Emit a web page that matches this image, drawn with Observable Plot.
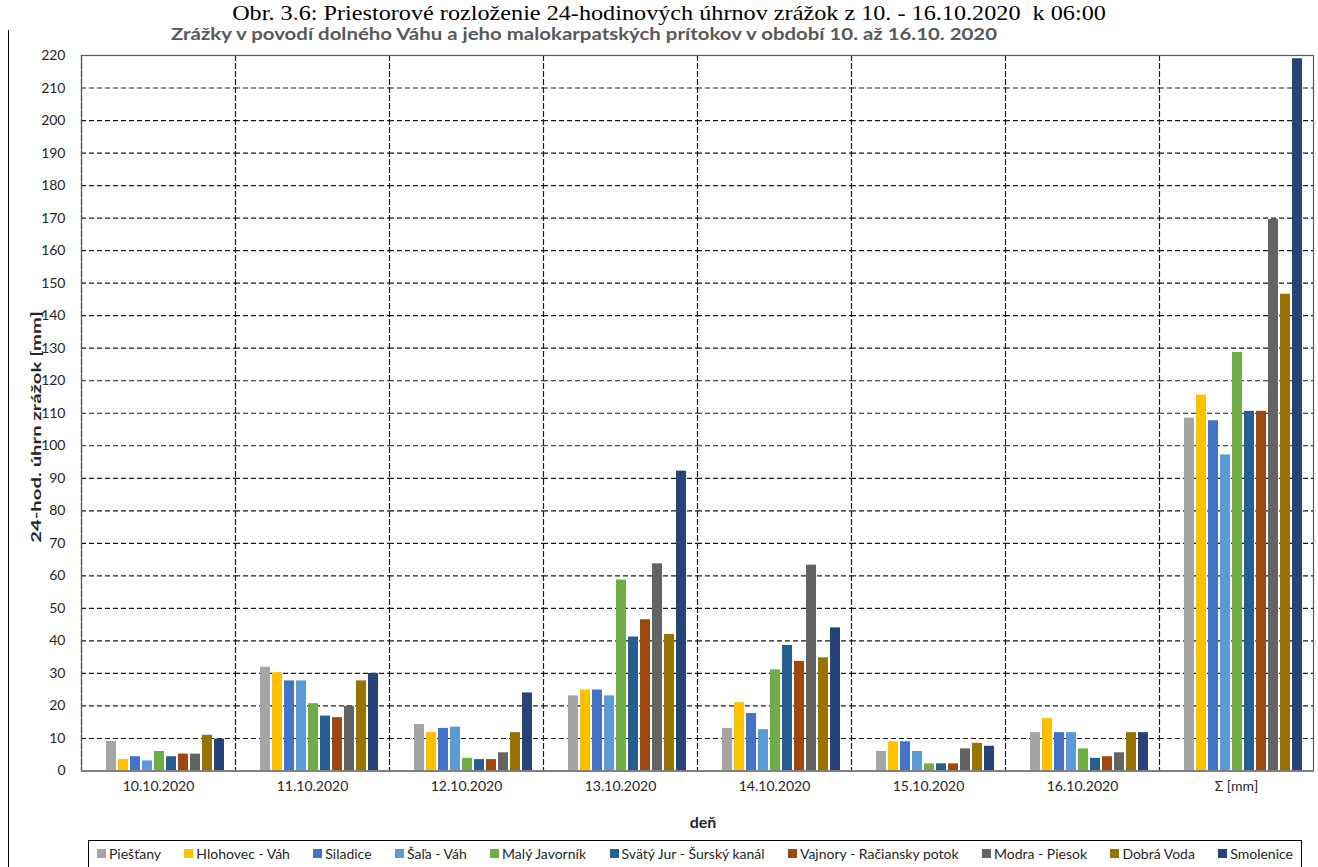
<!DOCTYPE html>
<html>
<head>
<meta charset="utf-8">
<script src="https://cdn.jsdelivr.net/npm/d3@7"></script>
<script src="https://cdn.jsdelivr.net/npm/@observablehq/plot@0.6"></script>
<style>
  body { margin: 0; background: #fff; }
  #wrap { position: relative; width: 1318px; height: 867px; overflow: hidden; font-family: Lato, "Liberation Sans", sans-serif; }
  #caption { position: absolute; left: 669px; top: 2px; transform: translateX(-50%) scaleX(1.1); font-family: "Liberation Serif", serif; font-size: 22px; line-height: 22px; color: #000; white-space: pre; }
  #frameline { position: absolute; left: 8px; top: 30px; width: 1px; height: 840px; background: #000; }
  #title { position: absolute; left: 584px; top: 33px; transform: translate(-50%, -50%) scaleX(1.2); font-weight: bold; font-size: 17px; color: #595959; white-space: nowrap; }
  #chart { position: absolute; left: 0; top: 0; }
  #ytitle { position: absolute; left: 35px; top: 427px; transform: translate(-50%, -50%) rotate(-90deg) scaleX(1.45); font-weight: bold; font-size: 14px; color: #262626; white-space: nowrap; }
  #xtitle { position: absolute; left: 703px; top: 821px; transform: translate(-50%, -50%); font-weight: bold; font-size: 16px; color: #262626; }
  #legend { position: absolute; left: 88px; top: 840px; width: 1214px; height: 40px; border: 1px solid #000; box-sizing: border-box; display: flex; justify-content: space-between; align-items: flex-start; padding: 4px 8px 0 8px; font-size: 14px; color: #262626; }
  #legend .item { display: flex; align-items: center; white-space: nowrap; }
  #legend .sw { width: 9px; height: 9px; margin-right: 3px; }
</style>
</head>
<body>
<div id="wrap">
  <div id="caption">Obr. 3<span style="color:#e00000">.</span>6: Priestorové rozloženie 24-hodinových úhrnov zrážok z 10. - 16.10.2020  k 06:00</div>
  <div id="frameline"></div>
  <div id="chart"></div>
  <div id="title">Zrážky v povodí dolného Váhu a jeho malokarpatských prítokov v období 10. až 16.10. 2020</div>
  <div id="ytitle">24-hod. úhrn zrážok [mm]</div>
  <div id="xtitle">deň</div>
  <div id="legend"></div>
</div>
<script>
// Gauging stations (series) and their fill colours
const stations = ["Piešťany", "Hlohovec - Váh", "Siladice", "Šaľa - Váh", "Malý Javorník",
  "Svätý Jur - Šurský kanál", "Vajnory - Račiansky potok", "Modra - Piesok", "Dobrá Voda", "Smolenice"];
const colors = ["#a5a5a5", "#ffc000", "#4472c4", "#5b9bd5", "#70ad47",
  "#255e91", "#9e480e", "#636363", "#997300", "#264478"];

// Category labels on the x axis
const days = ["10.10.2020", "11.10.2020", "12.10.2020", "13.10.2020", "14.10.2020",
  "15.10.2020", "16.10.2020", "Σ [mm]"];

// 24-hour precipitation totals [mm], one value per station in the order above
const rain1010 = [9.1, 3.5, 4.4, 3.1, 6.0, 4.4, 5.2, 5.2, 11.0, 9.8];
const rain1110 = [31.9, 30.2, 27.7, 27.7, 20.7, 16.9, 16.4, 19.9, 27.7, 30.0];
const rain1210 = [14.3, 11.8, 13.1, 13.5, 3.9, 3.5, 3.5, 5.6, 11.8, 24.0];
const rain1310 = [23.1, 24.9, 24.9, 23.1, 58.7, 41.2, 46.5, 63.7, 42.0, 92.2];
const rain1410 = [13.1, 21.0, 17.7, 12.7, 31.1, 38.6, 33.7, 63.3, 34.8, 44.0];
const rain1510 = [6.0, 9.0, 9.0, 6.0, 2.2, 2.2, 2.2, 6.8, 8.5, 7.6];
const rain1610 = [11.8, 16.1, 11.8, 11.8, 6.8, 3.9, 4.4, 5.6, 11.8, 11.8];
const rainSum = [108.5, 115.6, 107.7, 97.2, 128.7, 110.6, 110.6, 169.6, 146.6, 219.0];

// Y axis tick values
const yTicks = d3.range(0, 221, 10);

const series = [rain1010, rain1110, rain1210, rain1310, rain1410, rain1510, rain1610, rainSum];
const rows = series.flatMap((vals, i) =>
  vals.map((v, j) => ({day: days[i], station: stations[j], value: v})));

const gridStyle = {stroke: "#1a1a1a", strokeWidth: 1.2, strokeDasharray: "5,3"};

const chart = Plot.plot({
  width: 1318,
  height: 800,
  marginTop: 55,
  marginBottom: 29.5,
  marginLeft: 80,
  marginRight: 5,
  style: {fontFamily: "Lato, 'Liberation Sans', sans-serif", color: "#262626", background: "transparent", overflow: "visible"},
  fx: {domain: days, padding: 0, label: null},
  x: {domain: stations, paddingInner: 0.13, paddingOuter: 1.35, align: 0.7, axis: null},
  y: {domain: [0, 220], label: null},
  color: {domain: stations, range: colors},
  marks: [
    Plot.ruleY(yTicks.filter(d => d > 0), gridStyle),
    Plot.frame({anchor: "left", ...gridStyle}),
    Plot.barY(rows, {fx: "day", x: "station", y: "value", fill: "station"}),
    Plot.frame({facet: "super", stroke: "#595959", strokeWidth: 1.2}),
    Plot.ruleY([0], {stroke: "#808080", strokeWidth: 2}),
    Plot.axisY({ticks: yTicks, tickSize: 0, tickPadding: 16, fontSize: 14, label: null}),
    Plot.axisFx({anchor: "bottom", tickSize: 0, tickPadding: 10, fontSize: 14, label: null})
  ]
});
document.getElementById("chart").appendChild(chart);

// Legend entries below the plot
const legend = d3.select("#legend");
stations.forEach((s, i) => {
  const item = legend.append("div").attr("class", "item");
  item.append("div").attr("class", "sw").style("background", colors[i]);
  item.append("span").text(s);
});
</script>
</body>
</html>
